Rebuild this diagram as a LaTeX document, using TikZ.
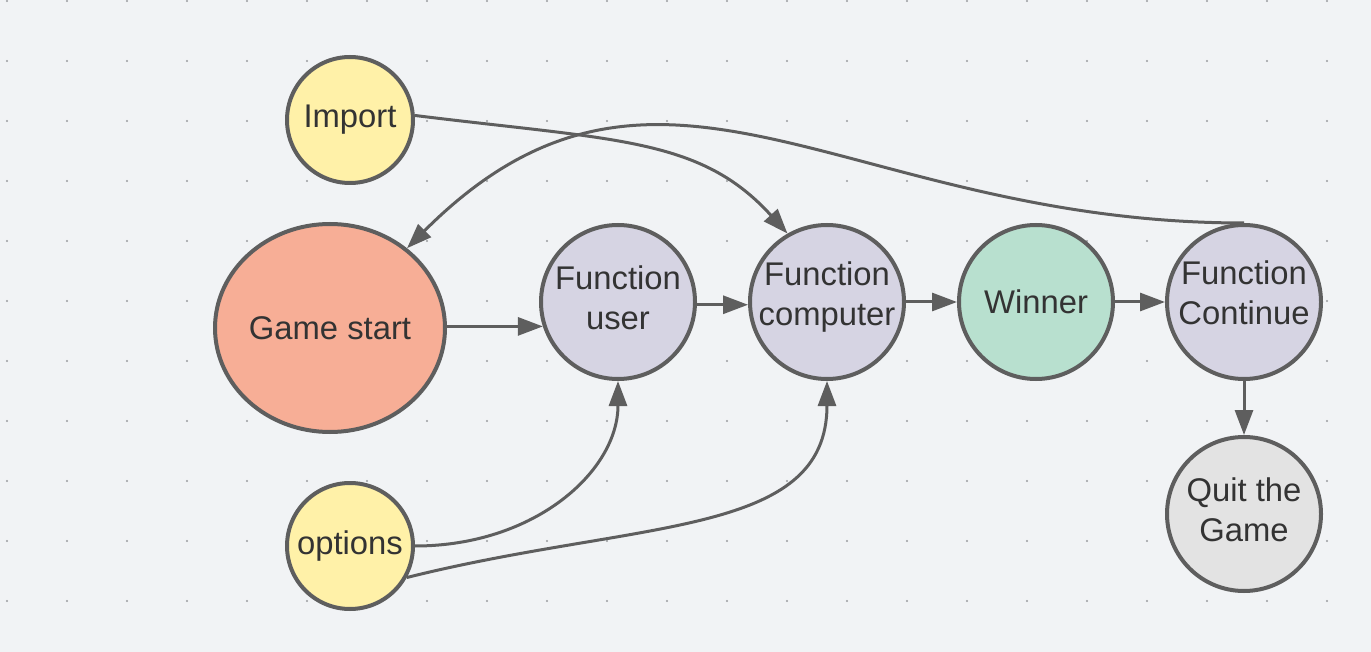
\documentclass[tikz,border=0pt]{standalone}
\usepackage{fontspec}
\setmainfont{Liberation Sans}
\usetikzlibrary{arrows.meta,shapes.geometric}
\definecolor{bgc}{HTML}{F1F3F5}
\definecolor{dotc}{HTML}{9A9CA0}
\definecolor{linec}{HTML}{5E5E5E}
\definecolor{txtc}{HTML}{333333}
\definecolor{yel}{HTML}{FFF1A8}
\definecolor{sal}{HTML}{F7AE96}
\definecolor{lil}{HTML}{D6D4E3}
\definecolor{mint}{HTML}{B8E0CF}
\definecolor{gry}{HTML}{E3E3E3}
\begin{document}
\begin{tikzpicture}[x=0.5pt,y=-0.5pt,
  nd/.style={circle, draw=linec, line width=2pt, inner sep=-2pt, text=txtc, align=center, font=\fontsize{16.4}{20}\selectfont},
  arr/.style={draw=linec, line width=1.5pt, -{Triangle[length=12.5pt,width=9pt]}}]
\useasboundingbox (0,0) rectangle (1371,652);
\fill[bgc] (0,0) rectangle (1371,652);
\foreach \i in {0,...,22}
  \foreach \j in {0,...,10}
    \fill[dotc] (7+60*\i,1+60*\j) circle (0.6pt);
\node[nd, fill=yel, minimum size=63pt] (nimport) at (350,120){Import};
\node[nd, ellipse, fill=sal, minimum width=115pt, minimum height=104pt] (nstart) at (330,328){Game start};
\node[nd, fill=lil, minimum size=77pt, text depth=4pt] (nuser) at (618,302){Function\\user};
\node[nd, fill=lil, minimum size=77pt, text depth=8.5pt] (ncomp) at (827,302){Function\\computer};
\node[nd, fill=mint, minimum size=77pt] (nwin) at (1036,302){Winner};
\node[nd, fill=lil, minimum size=77pt, text depth=9pt] (ncont) at (1244,302){Function\\Continue};
\node[nd, fill=gry, minimum size=77pt, text depth=4pt] (nquit) at (1244,514){Quit the\\Game};
\node[nd, fill=yel, minimum size=63pt] (nopt) at (350,546){options};
\draw[arr](nstart.east |- nuser.198) -- (nuser.198);
\draw[arr](nuser.-2) -- (ncomp.182);
\draw[arr](ncomp) -- (nwin);
\draw[arr](nwin) -- (ncont);
\draw[arr](ncont) -- (nquit);
\draw[arr](nimport.4) .. controls +(202,25) and +(-87,-96) .. (ncomp.120);
\draw[arr](ncont.north) .. controls +(-400,0) and +(252,-252) .. (nstart.46);
\draw[arr](nopt.0) .. controls +(120,0) and +(0,90) .. (nuser.south);
\draw[arr](nopt.-29) .. controls +(232,-58) and +(0,157) .. (ncomp.south);
\end{tikzpicture}
\end{document}
